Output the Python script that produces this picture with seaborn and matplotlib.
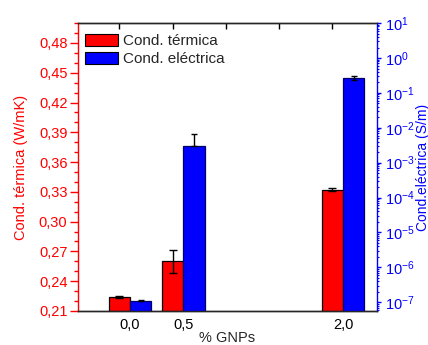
import numpy as np
import pandas as pd
import matplotlib
matplotlib.use('Agg')
import matplotlib.pyplot as plt
import matplotlib.ticker as mticker
from matplotlib.patches import Patch
import seaborn as sns

# datos
pct = [0.0, 0.5, 2.0]
pct_labels = ['0,0', '0,5', '2,0']
termica = [0.224, 0.260, 0.332]
termica_err = [0.0006, 0.0113, 0.0015]
electrica = [1.12e-7, 3.05e-3, 0.265]
electrica_err_sup = [0.06e-7, 3.55e-3, 0.036]
electrica_err_inf = [0.06e-7, 0.0, 0.033]

sns.set_style('ticks')
plt.rcParams['font.family'] = ['Liberation Sans', 'DejaVu Sans']
plt.rcParams['mathtext.default'] = 'regular'
plt.rcParams['axes.unicode_minus'] = True

ROJO = '#ff0000'
AZUL = '#0000ff'
desp = 0.1  # desplazamiento de cada barra respecto al grupo
FS = 10.5

df_t = pd.DataFrame({'x': np.array(pct) - desp, 'y': termica})
df_e = pd.DataFrame({'x': np.array(pct) + desp, 'y': electrica})

fig = plt.figure(figsize=(4.28, 3.45), dpi=100)
ax = fig.add_axes([0.182, 0.0986, 0.699, 0.8344])
ax2 = ax.twinx()

# ==================== barras ====================
sns.barplot(data=df_t, x='x', y='y', native_scale=True, width=0.4,
            color=ROJO, saturation=1, edgecolor='black', linewidth=0.9, ax=ax)
ax.errorbar(df_t['x'], termica, yerr=termica_err, fmt='none', ecolor='black',
            elinewidth=1, capsize=3, capthick=1, zorder=5)

ax2.set_yscale('log')
sns.barplot(data=df_e, x='x', y='y', native_scale=True, width=0.4,
            color=AZUL, saturation=1, edgecolor='#000066', linewidth=0.9, ax=ax2)
ax2.errorbar(df_e['x'], electrica, yerr=[electrica_err_inf, electrica_err_sup],
             fmt='none', ecolor='black', elinewidth=1, capsize=2.5, capthick=1, zorder=5)
ax2.set_xlabel('')

# ==================== ejes ====================
ax.set_xlim(-0.49, 2.32)
ax.set_ylim(0.21, 0.50)
ax2.set_ylim(10**-7.25, 10)

fmt_coma = mticker.FuncFormatter(lambda v, p: f'{v:.2f}'.replace('.', ','))
ax.set_yticks(np.arange(0.21, 0.481, 0.03))
ax.yaxis.set_major_formatter(fmt_coma)
ax.yaxis.set_minor_locator(mticker.MultipleLocator(0.01))
ax.set_xticks(pct)
ax.set_xticklabels(pct_labels)

ax2.yaxis.set_major_locator(mticker.LogLocator(base=10, numticks=20))
ax2.yaxis.set_minor_locator(mticker.LogLocator(base=10, subs=np.arange(2, 10), numticks=20))
ax2.yaxis.set_minor_formatter(mticker.NullFormatter())

ax.tick_params(axis='x', length=0, labelsize=FS, pad=5, colors='black')
ax.tick_params(axis='y', which='major', direction='out', length=6, width=1,
               colors=ROJO, labelsize=FS, pad=1.5)
ax.tick_params(axis='y', which='minor', direction='out', length=3, width=1, colors=ROJO)
ax2.tick_params(axis='y', which='major', direction='out', length=3, width=1,
                colors=AZUL, labelsize=FS, pad=3)
ax2.tick_params(axis='y', which='minor', direction='out', length=1.6, width=0.8, colors=AZUL)

# marcas superiores
top = ax.secondary_xaxis('top')
top.set_xticks([-0.1, 0.4, 0.9, 1.4, 1.9])
top.set_xticklabels([])
top.tick_params(direction='in', length=4, width=1, colors='black')

for a in (ax, ax2):
    for s in a.spines.values():
        s.set_linewidth(1)
ax.spines['left'].set_color(ROJO)
ax2.spines['left'].set_visible(False)
ax.spines['right'].set_visible(False)
ax2.spines['right'].set_color(AZUL)
ax2.spines['right'].set_visible(True)
ax2.spines['top'].set_visible(True)
top.spines['top'].set_visible(False)

ax.set_xlabel('% GNPs', fontsize=FS, labelpad=-1)
ax.set_ylabel('Cond. térmica (W/mK)', color=ROJO, fontsize=FS, labelpad=8)
ax2.set_ylabel('Cond.eléctrica (S/m)', color=AZUL, fontsize=10)
ax2.yaxis.set_label_coords(1.13, 0.5)

# leyenda
handles = [Patch(facecolor=ROJO, edgecolor='black', linewidth=0.8, label='Cond. térmica'),
           Patch(facecolor=AZUL, edgecolor='black', linewidth=0.8, label='Cond. eléctrica')]
ax2.legend(handles=handles, loc='upper left', bbox_to_anchor=(0.023, 0.962), frameon=False,
           fontsize=11, handlelength=2.15, handleheight=0.85, handletextpad=0.35,
           labelspacing=0.22, borderaxespad=0, borderpad=0)

fig.savefig('out.png', dpi=100)
